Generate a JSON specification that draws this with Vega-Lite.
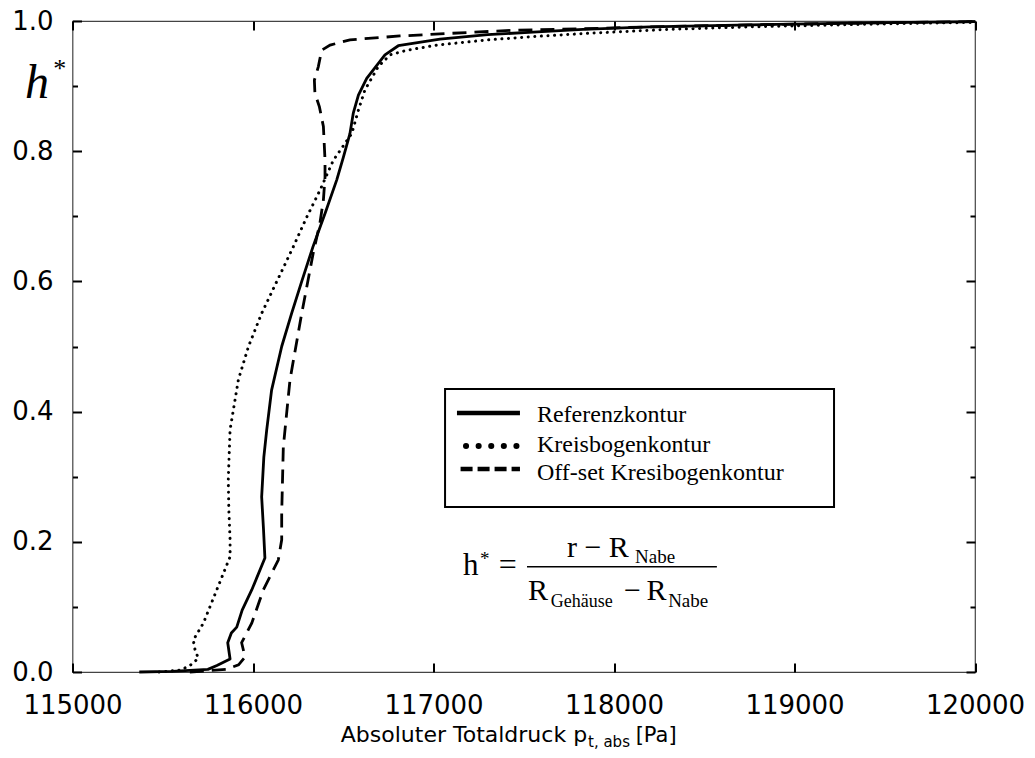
{
  "$schema": "https://vega.github.io/schema/vega-lite/v6.json",
  "width": 902.5,
  "height": 651,
  "autosize": {"type": "none"},
  "padding": {"left": 72.5, "top": 21, "right": 60, "bottom": 86},
  "background": "white",
  "config": {
    "view": {"stroke": "#444", "strokeWidth": 1.2},
    "axis": {"domain": false, "grid": false, "tickColor": "black", "tickWidth": 2, "labelColor": "black", "labelFont": "DejaVu Sans", "labelFontSize": 26, "labelFlush": false, "labelOverlap": false}
  },
  "data": {"values": [{}]},
  "datasets": {
    "curves": [
      {"s": "Referenzkontur", "p": 115370, "h": 0.000},
      {"s": "Referenzkontur", "p": 115550, "h": 0.001},
      {"s": "Referenzkontur", "p": 115750, "h": 0.004},
      {"s": "Referenzkontur", "p": 115800, "h": 0.010},
      {"s": "Referenzkontur", "p": 115873, "h": 0.020},
      {"s": "Referenzkontur", "p": 115860, "h": 0.045},
      {"s": "Referenzkontur", "p": 115880, "h": 0.060},
      {"s": "Referenzkontur", "p": 115910, "h": 0.069},
      {"s": "Referenzkontur", "p": 115940, "h": 0.095},
      {"s": "Referenzkontur", "p": 115993, "h": 0.126},
      {"s": "Referenzkontur", "p": 116066, "h": 0.175},
      {"s": "Referenzkontur", "p": 116058, "h": 0.220},
      {"s": "Referenzkontur", "p": 116048, "h": 0.269},
      {"s": "Referenzkontur", "p": 116060, "h": 0.330},
      {"s": "Referenzkontur", "p": 116076, "h": 0.372},
      {"s": "Referenzkontur", "p": 116103, "h": 0.433},
      {"s": "Referenzkontur", "p": 116159, "h": 0.500},
      {"s": "Referenzkontur", "p": 116214, "h": 0.551},
      {"s": "Referenzkontur", "p": 116270, "h": 0.600},
      {"s": "Referenzkontur", "p": 116332, "h": 0.653},
      {"s": "Referenzkontur", "p": 116400, "h": 0.705},
      {"s": "Referenzkontur", "p": 116464, "h": 0.756},
      {"s": "Referenzkontur", "p": 116500, "h": 0.790},
      {"s": "Referenzkontur", "p": 116537, "h": 0.827},
      {"s": "Referenzkontur", "p": 116556, "h": 0.859},
      {"s": "Referenzkontur", "p": 116584, "h": 0.886},
      {"s": "Referenzkontur", "p": 116630, "h": 0.912},
      {"s": "Referenzkontur", "p": 116731, "h": 0.948},
      {"s": "Referenzkontur", "p": 116805, "h": 0.962},
      {"s": "Referenzkontur", "p": 117036, "h": 0.972},
      {"s": "Referenzkontur", "p": 117300, "h": 0.979},
      {"s": "Referenzkontur", "p": 117551, "h": 0.983},
      {"s": "Referenzkontur", "p": 117828, "h": 0.987},
      {"s": "Referenzkontur", "p": 118199, "h": 0.991},
      {"s": "Referenzkontur", "p": 118753, "h": 0.994},
      {"s": "Referenzkontur", "p": 119400, "h": 0.997},
      {"s": "Referenzkontur", "p": 120000, "h": 0.999},
      {"s": "Kreisbogenkontur", "p": 115480, "h": 0.000},
      {"s": "Kreisbogenkontur", "p": 115600, "h": 0.003},
      {"s": "Kreisbogenkontur", "p": 115651, "h": 0.010},
      {"s": "Kreisbogenkontur", "p": 115697, "h": 0.021},
      {"s": "Kreisbogenkontur", "p": 115679, "h": 0.034},
      {"s": "Kreisbogenkontur", "p": 115669, "h": 0.049},
      {"s": "Kreisbogenkontur", "p": 115725, "h": 0.075},
      {"s": "Kreisbogenkontur", "p": 115799, "h": 0.126},
      {"s": "Kreisbogenkontur", "p": 115873, "h": 0.177},
      {"s": "Kreisbogenkontur", "p": 115873, "h": 0.203},
      {"s": "Kreisbogenkontur", "p": 115866, "h": 0.250},
      {"s": "Kreisbogenkontur", "p": 115863, "h": 0.295},
      {"s": "Kreisbogenkontur", "p": 115873, "h": 0.372},
      {"s": "Kreisbogenkontur", "p": 115919, "h": 0.449},
      {"s": "Kreisbogenkontur", "p": 115975, "h": 0.500},
      {"s": "Kreisbogenkontur", "p": 116048, "h": 0.551},
      {"s": "Kreisbogenkontur", "p": 116132, "h": 0.600},
      {"s": "Kreisbogenkontur", "p": 116223, "h": 0.653},
      {"s": "Kreisbogenkontur", "p": 116300, "h": 0.700},
      {"s": "Kreisbogenkontur", "p": 116371, "h": 0.740},
      {"s": "Kreisbogenkontur", "p": 116445, "h": 0.786},
      {"s": "Kreisbogenkontur", "p": 116547, "h": 0.827},
      {"s": "Kreisbogenkontur", "p": 116584, "h": 0.863},
      {"s": "Kreisbogenkontur", "p": 116620, "h": 0.894},
      {"s": "Kreisbogenkontur", "p": 116694, "h": 0.930},
      {"s": "Kreisbogenkontur", "p": 116759, "h": 0.948},
      {"s": "Kreisbogenkontur", "p": 116852, "h": 0.955},
      {"s": "Kreisbogenkontur", "p": 117018, "h": 0.963},
      {"s": "Kreisbogenkontur", "p": 117300, "h": 0.971},
      {"s": "Kreisbogenkontur", "p": 117551, "h": 0.976},
      {"s": "Kreisbogenkontur", "p": 117850, "h": 0.981},
      {"s": "Kreisbogenkontur", "p": 118293, "h": 0.987},
      {"s": "Kreisbogenkontur", "p": 118753, "h": 0.991},
      {"s": "Kreisbogenkontur", "p": 119400, "h": 0.995},
      {"s": "Kreisbogenkontur", "p": 120000, "h": 0.998},
      {"s": "Off-set Kresibogenkontur", "p": 115650, "h": 0.000},
      {"s": "Off-set Kresibogenkontur", "p": 115850, "h": 0.004},
      {"s": "Off-set Kresibogenkontur", "p": 115920, "h": 0.011},
      {"s": "Off-set Kresibogenkontur", "p": 115956, "h": 0.023},
      {"s": "Off-set Kresibogenkontur", "p": 115937, "h": 0.045},
      {"s": "Off-set Kresibogenkontur", "p": 115993, "h": 0.075},
      {"s": "Off-set Kresibogenkontur", "p": 116057, "h": 0.126},
      {"s": "Off-set Kresibogenkontur", "p": 116140, "h": 0.172},
      {"s": "Off-set Kresibogenkontur", "p": 116159, "h": 0.203},
      {"s": "Off-set Kresibogenkontur", "p": 116159, "h": 0.244},
      {"s": "Off-set Kresibogenkontur", "p": 116168, "h": 0.346},
      {"s": "Off-set Kresibogenkontur", "p": 116205, "h": 0.449},
      {"s": "Off-set Kresibogenkontur", "p": 116270, "h": 0.551},
      {"s": "Off-set Kresibogenkontur", "p": 116334, "h": 0.644},
      {"s": "Off-set Kresibogenkontur", "p": 116371, "h": 0.690},
      {"s": "Off-set Kresibogenkontur", "p": 116390, "h": 0.725},
      {"s": "Off-set Kresibogenkontur", "p": 116399, "h": 0.760},
      {"s": "Off-set Kresibogenkontur", "p": 116399, "h": 0.786},
      {"s": "Off-set Kresibogenkontur", "p": 116390, "h": 0.838},
      {"s": "Off-set Kresibogenkontur", "p": 116368, "h": 0.868},
      {"s": "Off-set Kresibogenkontur", "p": 116343, "h": 0.889},
      {"s": "Off-set Kresibogenkontur", "p": 116340, "h": 0.909},
      {"s": "Off-set Kresibogenkontur", "p": 116362, "h": 0.930},
      {"s": "Off-set Kresibogenkontur", "p": 116380, "h": 0.955},
      {"s": "Off-set Kresibogenkontur", "p": 116427, "h": 0.963},
      {"s": "Off-set Kresibogenkontur", "p": 116537, "h": 0.971},
      {"s": "Off-set Kresibogenkontur", "p": 116814, "h": 0.977},
      {"s": "Off-set Kresibogenkontur", "p": 117091, "h": 0.981},
      {"s": "Off-set Kresibogenkontur", "p": 117461, "h": 0.986},
      {"s": "Off-set Kresibogenkontur", "p": 117828, "h": 0.988},
      {"s": "Off-set Kresibogenkontur", "p": 118199, "h": 0.991},
      {"s": "Off-set Kresibogenkontur", "p": 118753, "h": 0.994},
      {"s": "Off-set Kresibogenkontur", "p": 119400, "h": 0.997},
      {"s": "Off-set Kresibogenkontur", "p": 120000, "h": 0.999}
    ]
  },
  "resolve": {"axis": {"x": "independent", "y": "independent"}},
  "layer": [
    {
      "mark": {"type": "rect", "fill": "white", "stroke": "black", "strokeWidth": 2},
      "encoding": {
        "x": {"datum": 117064, "type": "quantitative", "scale": {"domain": [115000, 120000], "nice": false, "zero": false}, "axis": null},
        "x2": {"datum": 119219},
        "y": {"datum": 0.4347, "type": "quantitative", "scale": {"domain": [0, 1], "nice": false, "zero": false}, "axis": null},
        "y2": {"datum": 0.2535}
      }
    },
    {
      "data": {"name": "curves"},
      "transform": [{"filter": "datum.s === 'Referenzkontur'"}],
      "mark": {"type": "line", "stroke": "black", "strokeWidth": 2.8, "strokeJoin": "round"},
      "encoding": {
        "x": {"field": "p", "type": "quantitative", "scale": {"domain": [115000, 120000], "nice": false, "zero": false},
              "axis": {"orient": "bottom", "values": [115000, 116000, 117000, 118000, 119000, 120000], "format": "d", "tickSize": -9, "labelPadding": 29, "title": null}},
        "y": {"field": "h", "type": "quantitative", "scale": {"domain": [0, 1], "nice": false, "zero": false},
              "axis": {"orient": "left", "values": [0, 0.2, 0.4, 0.6, 0.8, 1], "format": ".1f", "tickSize": -9, "labelPadding": 28.5, "title": null}},
        "order": {"field": "h", "type": "quantitative"}
      }
    },
    {
      "data": {"name": "curves"},
      "transform": [{"filter": "datum.s === 'Kreisbogenkontur'"}],
      "mark": {"type": "line", "stroke": "black", "strokeWidth": 3, "strokeCap": "round", "strokeDash": [0.1, 6.5]},
      "encoding": {
        "x": {"field": "p", "type": "quantitative", "scale": {"domain": [115000, 120000], "nice": false, "zero": false},
              "axis": {"orient": "top", "values": [115000, 116000, 117000, 118000, 119000, 120000], "labels": false, "tickSize": -9, "title": null}},
        "y": {"field": "h", "type": "quantitative", "scale": {"domain": [0, 1], "nice": false, "zero": false},
              "axis": {"orient": "left", "values": [0.1, 0.3, 0.5, 0.7, 0.9], "labels": false, "tickSize": -5, "title": null}},
        "order": {"field": "h", "type": "quantitative"}
      }
    },
    {
      "data": {"name": "curves"},
      "transform": [{"filter": "datum.s === 'Off-set Kresibogenkontur'"}],
      "mark": {"type": "line", "stroke": "black", "strokeWidth": 2.8, "strokeDash": [14, 8]},
      "encoding": {
        "x": {"field": "p", "type": "quantitative", "scale": {"domain": [115000, 120000], "nice": false, "zero": false}, "axis": null},
        "y": {"field": "h", "type": "quantitative", "scale": {"domain": [0, 1], "nice": false, "zero": false},
              "axis": {"orient": "right", "values": [0, 0.2, 0.4, 0.6, 0.8, 1], "labels": false, "tickSize": -9, "title": null}},
        "order": {"field": "h", "type": "quantitative"}
      }
    },
    {
      "mark": {"type": "rule", "stroke": "black", "strokeWidth": 4.5},
      "encoding": {
        "x": {"datum": 117130, "type": "quantitative", "scale": {"domain": [115000, 120000], "nice": false, "zero": false}, "axis": null},
        "x2": {"datum": 117479},
        "y": {"datum": 0.3978, "type": "quantitative", "scale": {"domain": [0, 1], "nice": false, "zero": false},
              "axis": {"orient": "right", "values": [0.1, 0.3, 0.5, 0.7, 0.9], "labels": false, "tickSize": -5, "title": null}}
      }
    },
    {
      "mark": {"type": "rule", "stroke": "black", "strokeWidth": 6, "strokeCap": "round", "strokeDash": [0.1, 12.5]},
      "encoding": {
        "x": {"datum": 117180, "type": "quantitative", "scale": {"domain": [115000, 120000], "nice": false, "zero": false}, "axis": null},
        "x2": {"datum": 117460},
        "y": {"datum": 0.347, "type": "quantitative", "scale": {"domain": [0, 1], "nice": false, "zero": false}, "axis": null}
      }
    },
    {
      "mark": {"type": "rule", "stroke": "black", "strokeWidth": 4.5, "strokeDash": [12, 5]},
      "encoding": {
        "x": {"datum": 117150, "type": "quantitative", "scale": {"domain": [115000, 120000], "nice": false, "zero": false}, "axis": null},
        "x2": {"datum": 117479},
        "y": {"datum": 0.3118, "type": "quantitative", "scale": {"domain": [0, 1], "nice": false, "zero": false}, "axis": null}
      }
    },
    {
      "mark": {"type": "text", "text": "Referenzkontur", "font": "Liberation Serif", "fontSize": 24, "align": "left", "baseline": "alphabetic", "color": "black"},
      "encoding": {
        "x": {"datum": 117573, "type": "quantitative", "scale": {"domain": [115000, 120000], "nice": false, "zero": false}, "axis": null},
        "y": {"datum": 0.3845, "type": "quantitative", "scale": {"domain": [0, 1], "nice": false, "zero": false}, "axis": null}
      }
    },
    {
      "mark": {"type": "text", "text": "Kreisbogenkontur", "font": "Liberation Serif", "fontSize": 24, "align": "left", "baseline": "alphabetic", "color": "black"},
      "encoding": {
        "x": {"datum": 117573, "type": "quantitative", "scale": {"domain": [115000, 120000], "nice": false, "zero": false}, "axis": null},
        "y": {"datum": 0.3384, "type": "quantitative", "scale": {"domain": [0, 1], "nice": false, "zero": false}, "axis": null}
      }
    },
    {
      "mark": {"type": "text", "text": "Off-set Kresibogenkontur", "font": "Liberation Serif", "fontSize": 24, "align": "left", "baseline": "alphabetic", "color": "black"},
      "encoding": {
        "x": {"datum": 117573, "type": "quantitative", "scale": {"domain": [115000, 120000], "nice": false, "zero": false}, "axis": null},
        "y": {"datum": 0.2949, "type": "quantitative", "scale": {"domain": [0, 1], "nice": false, "zero": false}, "axis": null}
      }
    },
    {
      "mark": {"type": "text", "text": "h", "font": "Liberation Serif", "fontSize": 31, "align": "left", "baseline": "alphabetic", "color": "black"},
      "encoding": {
        "x": {"datum": 117163, "type": "quantitative", "scale": {"domain": [115000, 120000], "nice": false, "zero": false}, "axis": null},
        "y": {"datum": 0.149, "type": "quantitative", "scale": {"domain": [0, 1], "nice": false, "zero": false}, "axis": null}
      }
    },
    {
      "mark": {"type": "text", "text": "*", "font": "Liberation Serif", "fontSize": 19, "align": "left", "baseline": "alphabetic", "color": "black"},
      "encoding": {
        "x": {"datum": 117258, "type": "quantitative", "scale": {"domain": [115000, 120000], "nice": false, "zero": false}, "axis": null},
        "y": {"datum": 0.1646, "type": "quantitative", "scale": {"domain": [0, 1], "nice": false, "zero": false}, "axis": null}
      }
    },
    {
      "mark": {"type": "text", "text": "=", "font": "Liberation Serif", "fontSize": 32, "align": "left", "baseline": "alphabetic", "color": "black"},
      "encoding": {
        "x": {"datum": 117362, "type": "quantitative", "scale": {"domain": [115000, 120000], "nice": false, "zero": false}, "axis": null},
        "y": {"datum": 0.149, "type": "quantitative", "scale": {"domain": [0, 1], "nice": false, "zero": false}, "axis": null}
      }
    },
    {
      "mark": {"type": "text", "text": "r − R", "font": "Liberation Serif", "fontSize": 30, "align": "left", "baseline": "alphabetic", "color": "black"},
      "encoding": {
        "x": {"datum": 117739, "type": "quantitative", "scale": {"domain": [115000, 120000], "nice": false, "zero": false}, "axis": null},
        "y": {"datum": 0.1771, "type": "quantitative", "scale": {"domain": [0, 1], "nice": false, "zero": false}, "axis": null}
      }
    },
    {
      "mark": {"type": "text", "text": "Nabe", "font": "Liberation Serif", "fontSize": 19, "align": "left", "baseline": "alphabetic", "color": "black"},
      "encoding": {
        "x": {"datum": 118117, "type": "quantitative", "scale": {"domain": [115000, 120000], "nice": false, "zero": false}, "axis": null},
        "y": {"datum": 0.167, "type": "quantitative", "scale": {"domain": [0, 1], "nice": false, "zero": false}, "axis": null}
      }
    },
    {
      "mark": {"type": "rule", "stroke": "black", "strokeWidth": 1.5},
      "encoding": {
        "x": {"datum": 117518, "type": "quantitative", "scale": {"domain": [115000, 120000], "nice": false, "zero": false}, "axis": null},
        "x2": {"datum": 118570},
        "y": {"datum": 0.1618, "type": "quantitative", "scale": {"domain": [0, 1], "nice": false, "zero": false}, "axis": null}
      }
    },
    {
      "mark": {"type": "text", "text": "R", "font": "Liberation Serif", "fontSize": 30, "align": "left", "baseline": "alphabetic", "color": "black"},
      "encoding": {
        "x": {"datum": 117523, "type": "quantitative", "scale": {"domain": [115000, 120000], "nice": false, "zero": false}, "axis": null},
        "y": {"datum": 0.1106, "type": "quantitative", "scale": {"domain": [0, 1], "nice": false, "zero": false}, "axis": null}
      }
    },
    {
      "mark": {"type": "text", "text": "Gehäuse", "font": "Liberation Serif", "fontSize": 18, "align": "left", "baseline": "alphabetic", "color": "black"},
      "encoding": {
        "x": {"datum": 117650, "type": "quantitative", "scale": {"domain": [115000, 120000], "nice": false, "zero": false}, "axis": null},
        "y": {"datum": 0.0998, "type": "quantitative", "scale": {"domain": [0, 1], "nice": false, "zero": false}, "axis": null}
      }
    },
    {
      "mark": {"type": "text", "text": "−", "font": "Liberation Serif", "fontSize": 30, "align": "left", "baseline": "alphabetic", "color": "black"},
      "encoding": {
        "x": {"datum": 118055, "type": "quantitative", "scale": {"domain": [115000, 120000], "nice": false, "zero": false}, "axis": null},
        "y": {"datum": 0.1106, "type": "quantitative", "scale": {"domain": [0, 1], "nice": false, "zero": false}, "axis": null}
      }
    },
    {
      "mark": {"type": "text", "text": "R", "font": "Liberation Serif", "fontSize": 30, "align": "left", "baseline": "alphabetic", "color": "black"},
      "encoding": {
        "x": {"datum": 118180, "type": "quantitative", "scale": {"domain": [115000, 120000], "nice": false, "zero": false}, "axis": null},
        "y": {"datum": 0.1106, "type": "quantitative", "scale": {"domain": [0, 1], "nice": false, "zero": false}, "axis": null}
      }
    },
    {
      "mark": {"type": "text", "text": "Nabe", "font": "Liberation Serif", "fontSize": 19, "align": "left", "baseline": "alphabetic", "color": "black"},
      "encoding": {
        "x": {"datum": 118300, "type": "quantitative", "scale": {"domain": [115000, 120000], "nice": false, "zero": false}, "axis": null},
        "y": {"datum": 0.0998, "type": "quantitative", "scale": {"domain": [0, 1], "nice": false, "zero": false}, "axis": null}
      }
    },
    {
      "mark": {"type": "text", "text": "h", "font": "Liberation Serif", "fontStyle": "italic", "fontSize": 48, "align": "left", "baseline": "alphabetic", "color": "black"},
      "encoding": {
        "x": {"datum": 114737, "type": "quantitative", "scale": {"domain": [115000, 120000], "nice": false, "zero": false}, "axis": null},
        "y": {"datum": 0.8817, "type": "quantitative", "scale": {"domain": [0, 1], "nice": false, "zero": false}, "axis": null}
      }
    },
    {
      "mark": {"type": "text", "text": "*", "font": "Liberation Serif", "fontSize": 26, "align": "left", "baseline": "alphabetic", "color": "black"},
      "encoding": {
        "x": {"datum": 114893, "type": "quantitative", "scale": {"domain": [115000, 120000], "nice": false, "zero": false}, "axis": null},
        "y": {"datum": 0.9144, "type": "quantitative", "scale": {"domain": [0, 1], "nice": false, "zero": false}, "axis": null}
      }
    },
    {
      "mark": {"type": "text", "text": "Absoluter Totaldruck p", "font": "DejaVu Sans", "fontSize": 22, "align": "right", "baseline": "alphabetic", "color": "black"},
      "encoding": {
        "x": {"datum": 117851, "type": "quantitative", "scale": {"domain": [115000, 120000], "nice": false, "zero": false}, "axis": null},
        "y": {"datum": -0.1075, "type": "quantitative", "scale": {"domain": [0, 1], "nice": false, "zero": false}, "axis": null}
      }
    },
    {
      "mark": {"type": "text", "text": "t, abs", "font": "DejaVu Sans", "fontSize": 15, "align": "left", "baseline": "alphabetic", "color": "black"},
      "encoding": {
        "x": {"datum": 117856, "type": "quantitative", "scale": {"domain": [115000, 120000], "nice": false, "zero": false}, "axis": null},
        "y": {"datum": -0.1147, "type": "quantitative", "scale": {"domain": [0, 1], "nice": false, "zero": false}, "axis": null}
      }
    },
    {
      "mark": {"type": "text", "text": "[Pa]", "font": "DejaVu Sans", "fontSize": 21, "align": "left", "baseline": "alphabetic", "color": "black"},
      "encoding": {
        "x": {"datum": 118120, "type": "quantitative", "scale": {"domain": [115000, 120000], "nice": false, "zero": false}, "axis": null},
        "y": {"datum": -0.1075, "type": "quantitative", "scale": {"domain": [0, 1], "nice": false, "zero": false}, "axis": null}
      }
    }
  ]
}
